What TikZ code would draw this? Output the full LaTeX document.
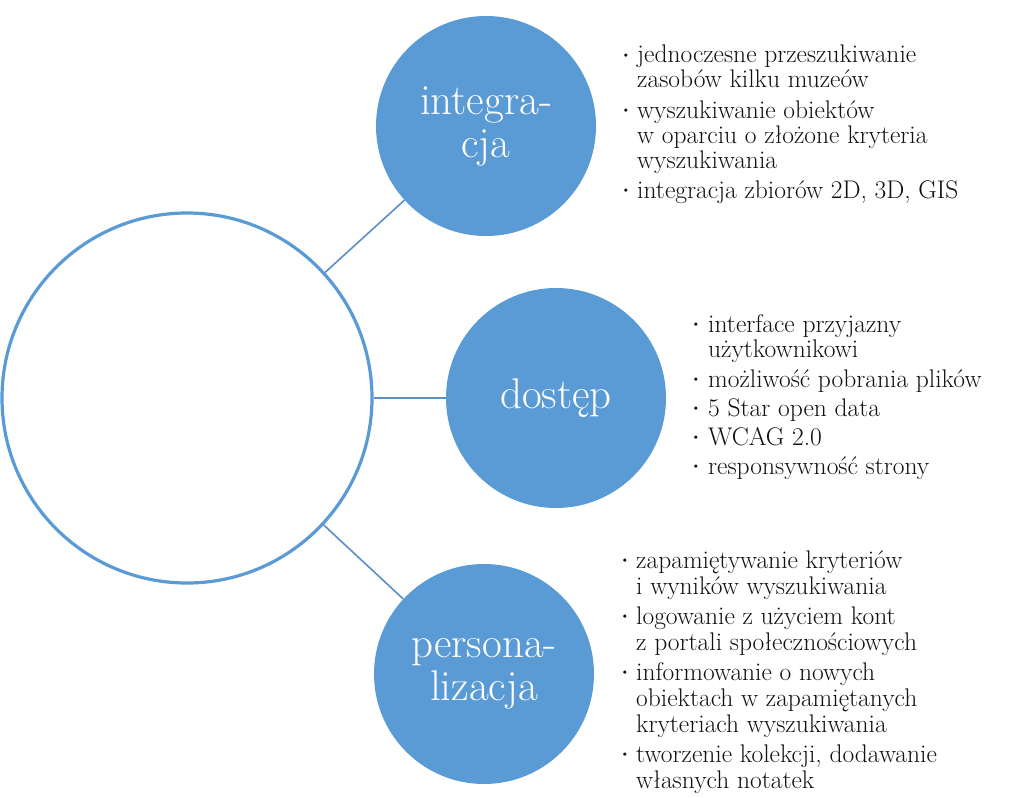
\documentclass[tikz,border=0pt]{standalone}
\usepackage{fontspec}
\definecolor{blu}{HTML}{5B9BD5}
\definecolor{lin}{HTML}{5A8FC8}
\definecolor{txt}{HTML}{111111}
\begin{document}
\begin{tikzpicture}[x=1pt,y=-1pt,
  hub/.style={circle, draw=blu, line width=3.2pt, fill=white, minimum size=370pt, inner sep=0pt},
  sat/.style={circle, fill=blu, draw=none, minimum size=220pt, inner sep=0pt, text=white,
     align=center, font=\fontsize{43}{43}\selectfont\addfontfeature{FakeBold=0.3}},
  conn/.style={draw=lin, line width=1.6pt},
  itm/.style={anchor=base west, inner sep=0pt, font=\fontsize{25.5}{28}\selectfont\addfontfeature{FakeBold=0.3}, text=txt},
  bul/.style={inner sep=0pt, font=\fontsize{12}{14}\selectfont, text=txt}]
\useasboundingbox (0,0) rectangle (1024,797);
\fill[white] (0,0) rectangle (1024,797);

\node[hub] (hub) at (187,398) {};
\node[sat] (integ) at (486,126) {integra-\\cja};
\node[sat] (dost) at (556,398) {dostęp};
\node[sat] (pers) at (484,674) {persona-\\lizacja};

\draw[conn] (hub) -- (integ);
\draw[conn] (hub) -- (dost);
\draw[conn] (hub) -- (pers);

% list 1
\node[bul] (b11) at (626,56) {\textbullet};
\node[itm] (t11) at (637,63) {jednoczesne przeszukiwanie};
\node[itm] (t12) at (637,88) {zasobów kilku muzeów};
\node[bul] (b12) at (626,111) {\textbullet};
\node[itm] (t13) at (637,118) {wyszukiwanie obiektów};
\node[itm] (t14) at (637,143) {w oparciu o złożone kryteria};
\node[itm] (t15) at (637,168) {wyszukiwania};
\node[bul] (b13) at (626,191) {\textbullet};
\node[itm] (t16) at (637,198) {integracja zbiorów 2D, 3D, GIS};

% list 2
\node[bul] (b21) at (696,325) {\textbullet};
\node[itm] (t21) at (708,332) {interface przyjazny};
\node[itm] (t22) at (708,357) {użytkownikowi};
\node[bul] (b22) at (696,380) {\textbullet};
\node[itm] (t23) at (708,387) {możliwość pobrania plików};
\node[bul] (b23) at (696,409) {\textbullet};
\node[itm] (t24) at (708,416) {5 Star open data};
\node[bul] (b24) at (696,438) {\textbullet};
\node[itm] (t25) at (708,445) {WCAG 2.0};
\node[bul] (b25) at (696,467) {\textbullet};
\node[itm] (t26) at (708,474) {responsywność strony};

% list 3
\node[bul] (b31) at (625,561) {\textbullet};
\node[itm] (t31) at (636,568) {zapamiętywanie kryteriów};
\node[itm] (t32) at (636,594) {i wyników wyszukiwania};
\node[bul] (b32) at (625,617) {\textbullet};
\node[itm] (t33) at (636,624) {logowanie z użyciem kont};
\node[itm] (t34) at (636,650) {z portali społecznościowych};
\node[bul] (b33) at (625,673) {\textbullet};
\node[itm] (t35) at (636,680) {informowanie o nowych};
\node[itm] (t36) at (636,706) {obiektach w zapamiętanych};
\node[itm] (t37) at (636,732) {kryteriach wyszukiwania};
\node[bul] (b34) at (625,755) {\textbullet};
\node[itm] (t38) at (636,762) {tworzenie kolekcji, dodawanie};
\node[itm] (t39) at (636,788) {własnych notatek};
\end{tikzpicture}
\end{document}
